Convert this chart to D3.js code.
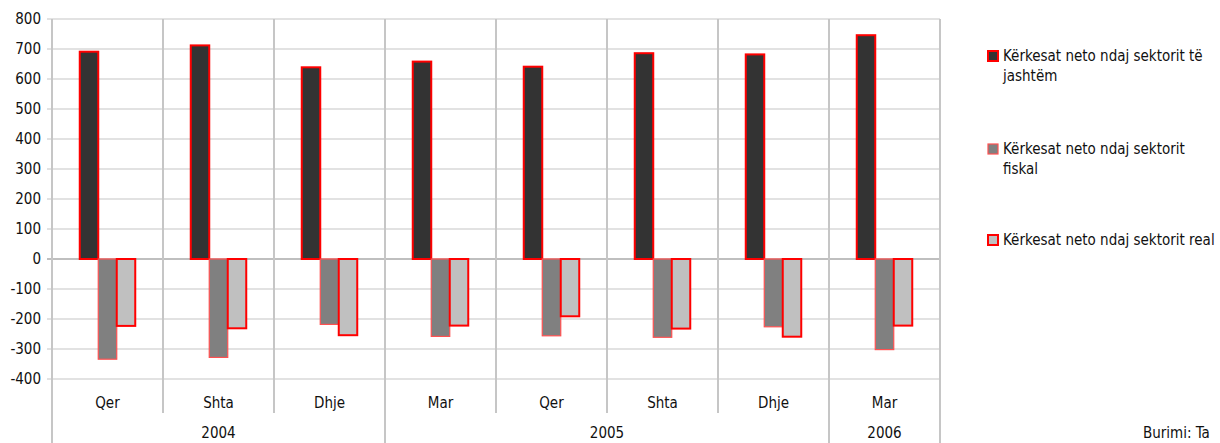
<!DOCTYPE html>
<html><head><meta charset="utf-8">
<script src="https://cdn.jsdelivr.net/npm/d3@7"></script>
<style>
html,body{margin:0;padding:0;background:#fff;}
svg{display:block;font-family:"DejaVu Sans Condensed","DejaVu Sans",sans-serif;}
</style></head>
<body>
<svg id="c" width="1220" height="443"></svg>
<script>
const months = ["Qer","Shta","Dhje","Mar","Qer","Shta","Dhje","Mar"];
const years = ["2004","2005","2006"];
const yearSpans = [3,4,1];
const seriesNames = ["Kërkesat neto ndaj sektorit të jashtëm","Kërkesat neto ndaj sektorit fiskal","Kërkesat neto ndaj sektorit real"];
const extern = [691,712,639,658,641,686,682,746];
const fiscal = [-334,-328,-218,-258,-256,-261,-226,-302];
const real = [-223,-231,-254,-222,-191,-232,-259,-222];
const yTicks = [-400,-300,-200,-100,0,100,200,300,400,500,600,700,800];
const source = "Burimi: Ta";

const seriesVals = [extern, fiscal, real];
const fills = ["#333333","#808080","#c0c0c0"];
const strokes = ["#ff0000","#ff5050","#ff0000"];
const strokeW = [2,1.2,2];
const FS = 15;

const svg = d3.select("#c");
const L = 52, R = 940, T = 19, B = 379;
const cats = months.map((m,i)=>i);
const x = d3.scaleBand().domain(cats).range([L,R]).padding(0);
const xs = d3.scaleBand().domain([0,1,2]).range([0,x.bandwidth()]).paddingInner(0).paddingOuter(1.5);
const y = d3.scaleLinear().domain([-400,800]).range([B,T]);

// horizontal gridlines
svg.append("g").selectAll("line").data(yTicks).join("line")
  .attr("x1",L-5).attr("x2",R).attr("y1",d=>y(d)).attr("y2",d=>y(d))
  .attr("stroke",d=>d===0?"#bfbfbf":"#d9d9d9").attr("stroke-width",d=>d===0?2:1.5);

// vertical category lines in plot + separators
const bounds = d3.range(months.length+1).map(i=> i<months.length ? x(i) : R);
const yearBoundIdx = [0];
yearSpans.reduce((a,s)=>{yearBoundIdx.push(a+s);return a+s;},0);
svg.append("g").selectAll("line").data(d3.range(months.length+1)).join("line")
  .attr("x1",i=>bounds[i]).attr("x2",i=>bounds[i])
  .attr("y1",T).attr("y2",i=> yearBoundIdx.includes(i) ? 443 : 413)
  .attr("stroke","#c6c6c6").attr("stroke-width",2);

// y tick labels
svg.append("g").selectAll("text").data(yTicks).join("text")
  .attr("x",41).attr("y",d=>y(d)).attr("dy","0.36em").attr("text-anchor","end")
  .attr("font-size",FS).attr("fill","#111").text(d=>d);

// bars
seriesVals.forEach((vals,s)=>{
  svg.append("g").selectAll("rect").data(vals).join("rect")
    .attr("x",(d,i)=>x(i)+xs(s)).attr("width",xs.bandwidth())
    .attr("y",d=>y(Math.max(0,d))).attr("height",d=>Math.abs(y(d)-y(0)))
    .attr("fill",fills[s]).attr("stroke",strokes[s]).attr("stroke-width",strokeW[s]);
});

// month labels
svg.append("g").selectAll("text").data(months).join("text")
  .attr("x",(d,i)=>x(i)+x.bandwidth()/2).attr("y",403).attr("dy","0.36em")
  .attr("text-anchor","middle").attr("font-size",FS).attr("fill","#111").text(d=>d);

// year labels
svg.append("g").selectAll("text").data(years).join("text")
  .attr("x",(d,i)=>{const a=bounds[yearBoundIdx[i]], b=bounds[yearBoundIdx[i+1]]; return (a+b)/2;})
  .attr("y",433).attr("dy","0.36em")
  .attr("text-anchor","middle").attr("font-size",FS).attr("fill","#111").text(d=>d);

// legend
const legY = [56, 149, 240];
const legLines = [["Kërkesat neto ndaj sektorit të","jashtëm"],["Kërkesat neto ndaj sektorit","fiskal"],["Kërkesat neto ndaj sektorit real"]];
const lg = svg.append("g");
seriesNames.forEach((n,s)=>{
  lg.append("rect").attr("x",988).attr("y",legY[s]-5).attr("width",10).attr("height",10)
    .attr("fill",fills[s]).attr("stroke",strokes[s]).attr("stroke-width",strokeW[s]);
  const t = lg.append("text").attr("x",1003).attr("y",legY[s])
    .attr("font-size",FS).attr("fill","#111");
  legLines[s].forEach((ln,k)=>{
    t.append("tspan").attr("x",1003).attr("dy",k===0?"0.36em":"1.3em").text(ln);
  });
});

svg.append("text").attr("x",1143).attr("y",433).attr("dy","0.36em")
  .attr("font-size",FS).attr("fill","#111").text(source);
</script>
</body></html>
